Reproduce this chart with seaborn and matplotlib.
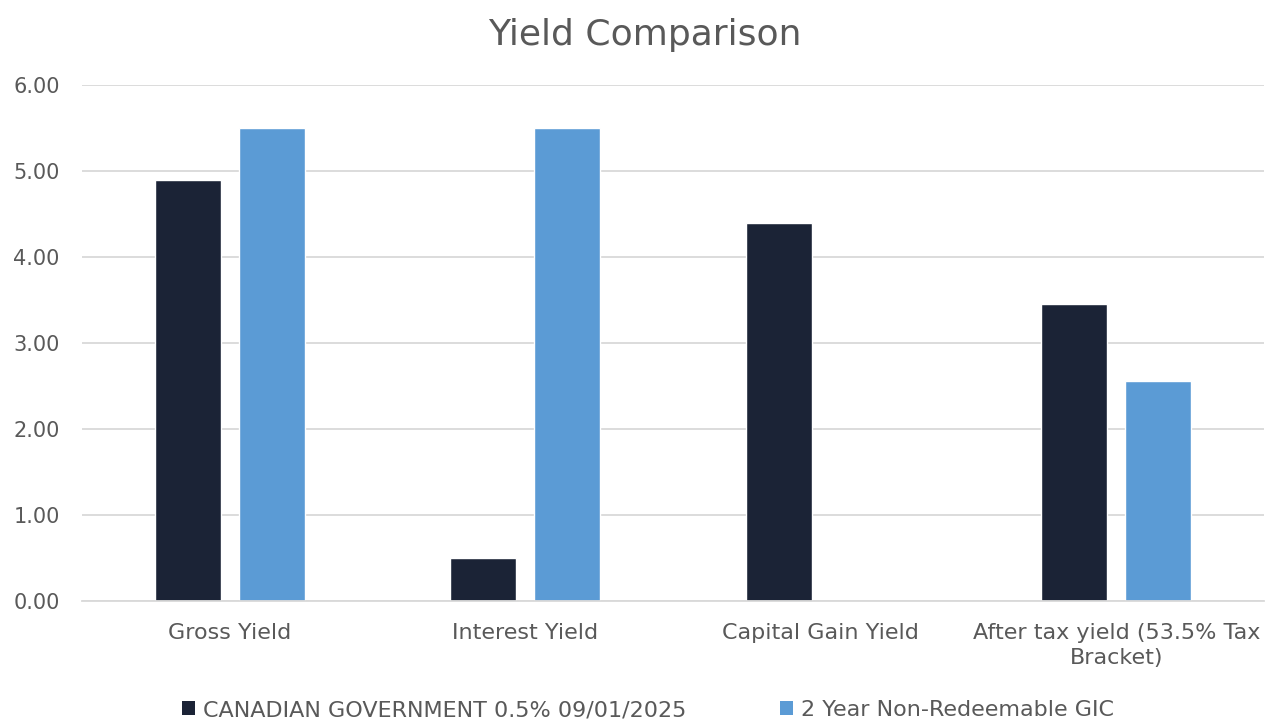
import matplotlib
matplotlib.use("Agg")
import matplotlib.pyplot as plt
import seaborn as sns
import pandas as pd
from matplotlib.patches import Patch

categories = ["Gross Yield", "Interest Yield", "Capital Gain Yield", "After tax yield (53.5% Tax\nBracket)"]
series_names = ["CANADIAN GOVERNMENT 0.5% 09/01/2025", "2 Year Non-Redeemable GIC"]
gov_values = [4.90, 0.50, 4.40, 3.45]
gic_values = [5.50, 5.50, 0.00, 2.56]
yticks = [0, 1, 2, 3, 4, 5, 6]
colors = ["#1b2336", "#5b9bd5"]

df = pd.DataFrame({
    "category": categories * 2,
    "series": [series_names[0]] * 4 + [series_names[1]] * 4,
    "value": gov_values + gic_values,
})

sns.set_theme(style="white")
plt.rcParams["font.family"] = ["DejaVu Sans"]
text_color = "#595959"

fig = plt.figure(figsize=(12.65, 7.24), dpi=100)
ax = fig.add_axes([0.0648, 0.170, 0.9345, 0.7126])

sns.barplot(data=df, x="category", y="value", hue="series", order=categories,
            hue_order=series_names, palette=colors, width=0.569, gap=0.214,
            saturation=1, ax=ax, legend=False)

ax.set_ylim(0, 6)
ax.set_xlim(-0.5, 3.5)
ax.set_yticks(yticks)
ax.set_yticklabels([f"{v:.2f}" for v in yticks], fontsize=15, color=text_color)
ax.tick_params(axis="y", length=0, pad=16)
ax.tick_params(axis="x", length=0, pad=16, labelsize=16, labelcolor=text_color)
for lbl in ax.get_xticklabels():
    lbl.set_linespacing(1.3)
ax.set_xlabel("")
ax.set_ylabel("")
ax.yaxis.grid(True, color="#d9d9d9", linewidth=1.3)
ax.set_axisbelow(True)
for s in ["top", "right", "left"]:
    ax.spines[s].set_visible(False)
ax.spines["bottom"].set_color("#d9d9d9")
ax.spines["bottom"].set_linewidth(1.3)

fig.suptitle("Yield Comparison", x=0.51, y=0.975, fontsize=26, color=text_color)

handles = [Patch(facecolor=c, edgecolor="none") for c in colors]
fig.legend(handles, series_names, loc="lower center", bbox_to_anchor=(0.512, -0.013),
           ncol=2, frameon=False, fontsize=16, labelcolor=text_color, borderpad=0.1,
           handlelength=0.6, handleheight=0.6, handletextpad=0.35, columnspacing=4.2)

fig.savefig("out.png", dpi=100)
